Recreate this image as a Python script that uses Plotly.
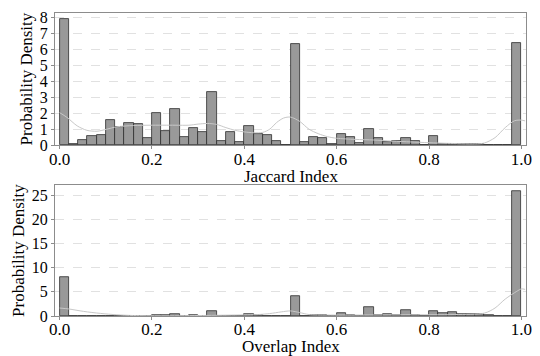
import numpy as np
import plotly.graph_objects as go
from plotly.subplots import make_subplots

# 50 bins of width 0.02 on [0, 1]
bin_width = 0.02
bin_left = [round(i * bin_width, 2) for i in range(50)]

jaccard_density = [
    7.95, 0.06, 0.32, 0.57, 0.66, 1.55, 1.12, 1.42, 1.32, 0.45,
    2.04, 0.87, 2.29, 0.53, 1.06, 0.83, 3.35, 0.23, 0.85, 0.17,
    1.23, 0.68, 0.62, 0.23, 0.00, 6.35, 0.21, 0.53, 0.47, 0.10,
    0.70, 0.51, 0.13, 1.00, 0.47, 0.19, 0.28, 0.42, 0.25, 0.00,
    0.55, 0.08, 0.10, 0.10, 0.10, 0.10, 0.00, 0.00, 0.00, 6.40,
]

overlap_density = [
    8.10, 0.00, 0.00, 0.00, 0.00, 0.00, 0.00, 0.00, 0.00, 0.00,
    0.15, 0.10, 0.41, 0.05, 0.10, 0.05, 1.03, 0.05, 0.05, 0.05,
    0.41, 0.14, 0.05, 0.05, 0.00, 4.20, 0.05, 0.10, 0.20, 0.05,
    0.60, 0.20, 0.05, 1.86, 0.14, 0.35, 0.10, 1.24, 0.20, 0.05,
    1.10, 0.70, 0.83, 0.48, 0.41, 0.41, 0.28, 0.07, 0.00, 25.80,
]

# KDE curves
jaccard_kde_x = [0.0, 0.016, 0.038, 0.059, 0.081, 0.102, 0.124, 0.16, 0.196, 0.25,
                 0.28, 0.30, 0.32, 0.34, 0.36, 0.38, 0.40, 0.42, 0.44, 0.455,
                 0.47, 0.485, 0.50, 0.52, 0.54, 0.56, 0.58, 0.60, 0.64, 0.68,
                 0.72, 0.76, 0.80, 0.84, 0.90, 0.92, 0.943, 0.965, 0.985, 1.0, 1.008]
jaccard_kde_y = [2.04, 1.74, 1.21, 0.93, 0.87, 1.00, 1.15, 1.23, 1.25, 1.25,
                 1.25, 1.32, 1.36, 1.30, 1.10, 0.93, 0.83, 0.78, 0.80, 1.00,
                 1.42, 1.70, 1.76, 1.49, 1.00, 0.72, 0.53, 0.43, 0.36, 0.32,
                 0.25, 0.20, 0.15, 0.11, 0.08, 0.13, 0.47, 1.10, 1.53, 1.57, 1.52]

overlap_kde_x = [0.0, 0.02, 0.052, 0.088, 0.124, 0.16, 0.22, 0.30, 0.38, 0.43,
                 0.455, 0.48, 0.50, 0.52, 0.54, 0.58, 0.65, 0.75, 0.856, 0.92,
                 0.943, 0.965, 0.99, 1.0, 1.008]
overlap_kde_y = [1.65, 1.45, 0.95, 0.54, 0.25, 0.10, 0.05, 0.10, 0.20, 0.30,
                 0.50, 0.85, 1.05, 0.70, 0.30, 0.20, 0.20, 0.25, 0.30, 0.60,
                 1.65, 3.50, 5.10, 5.60, 5.50]

x_tickvals = [0.0, 0.2, 0.4, 0.6, 0.8, 1.0]
x_ticktext = ["0.0", "0.2", "0.4", "0.6", "0.8", "1.0"]
top_yticks = [0, 1, 2, 3, 4, 5, 6, 7, 8]
bottom_yticks = [0, 5, 10, 15, 20, 25]
x_titles = ["Jaccard Index", "Overlap Index"]
y_title = "Probability Density"

centers = [b + bin_width / 2 for b in bin_left]

FONT = "Liberation Serif"
BAR_FILL = "rgb(153,153,153)"
BAR_EDGE = "rgb(45,45,45)"
KDE_COLOR = "rgb(200,200,200)"
FRAME = "rgb(140,140,140)"
GRID = "rgb(225,225,225)"

fig = make_subplots(rows=2, cols=1, vertical_spacing=0.13)

for row, dens, kx, ky in [(1, jaccard_density, jaccard_kde_x, jaccard_kde_y),
                          (2, overlap_density, overlap_kde_x, overlap_kde_y)]:
    fig.add_trace(go.Bar(x=centers, y=dens, width=bin_width,
                         marker=dict(color=BAR_FILL, line=dict(color=BAR_EDGE, width=0.8)),
                         showlegend=False, hoverinfo="skip"), row=row, col=1)
    fig.add_trace(go.Scatter(x=kx, y=ky, mode="lines",
                             line=dict(color=KDE_COLOR, width=1, shape="spline", smoothing=0.8),
                             showlegend=False, hoverinfo="skip"), row=row, col=1)

axis_common = dict(showline=True, linecolor=FRAME, linewidth=1, mirror=True,
                   ticks="outside", ticklen=3, tickcolor=FRAME, automargin=False)

fig.update_xaxes(range=[-0.01, 1.01], tickvals=x_tickvals, ticktext=x_ticktext,
                 showgrid=False, zeroline=False, ticklabelstandoff=-5,
                 tickfont=dict(family=FONT, size=17, color="black"), **axis_common)

fig.update_yaxes(showgrid=True, gridcolor=GRID, griddash="dash", gridwidth=1,
                 zeroline=False, ticklabelstandoff=0,
                 tickfont=dict(family=FONT, size=16, color="black"),
                 title=dict(text=y_title, font=dict(family=FONT, size=17, color="black"), standoff=2),
                 **axis_common)
fig.update_yaxes(range=[0, 8.3], tickvals=top_yticks, row=1, col=1)
fig.update_yaxes(range=[0, 27.05], tickvals=bottom_yticks, row=2, col=1)

# x-axis titles placed as annotations just below the tick labels
for title, ypos in zip(x_titles, [0.462, -0.100]):
    fig.add_annotation(text=title, xref="paper", yref="paper", x=0.5, y=ypos,
                       xanchor="center", yanchor="middle", showarrow=False,
                       font=dict(family=FONT, size=17, color="black"))

fig.update_layout(
    width=540, height=356,
    margin=dict(l=55, r=14, t=13, b=40),
    plot_bgcolor="white", paper_bgcolor="white",
    bargap=0,
    font=dict(family=FONT, color="black"),
)
fig.update_layout(yaxis=dict(domain=[0.564, 1.0]), yaxis2=dict(domain=[0.0, 0.432]))

fig.write_html("out.html", config={"displayModeBar": False},
               post_script="document.body.style.margin='0';document.body.style.overflow='hidden';")
